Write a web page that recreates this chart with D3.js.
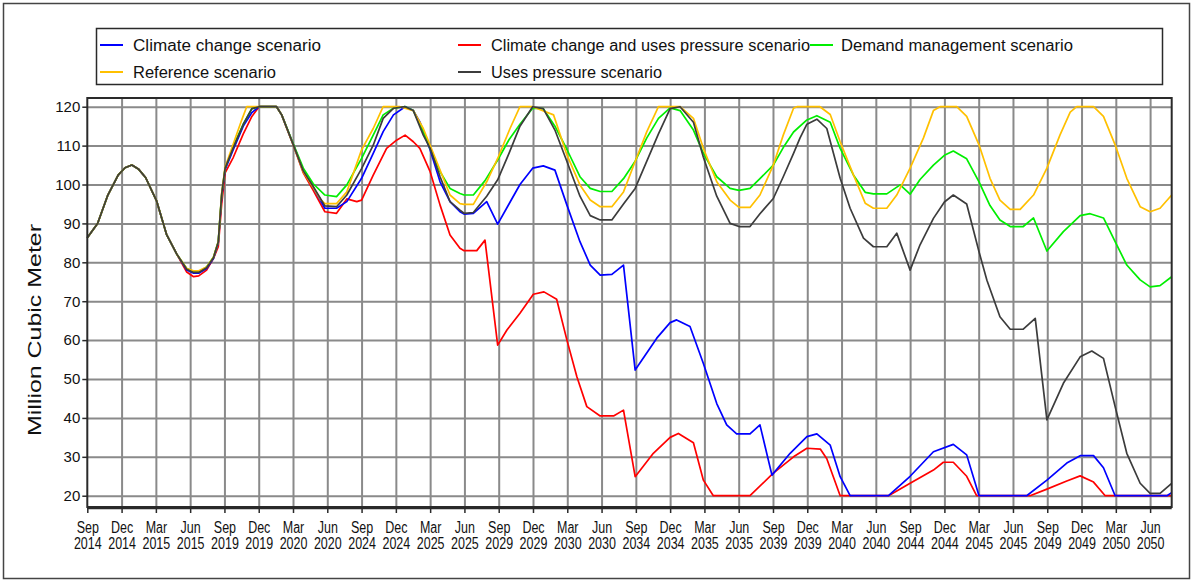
<!DOCTYPE html>
<html>
<head>
<meta charset="utf-8">
<script src="https://cdn.jsdelivr.net/npm/d3@7"></script>
<style>
  body { margin: 0; background: #fff; }
  svg { display: block; font-family: "Liberation Sans", Arial, sans-serif; }
</style>
</head>
<body>
<svg width="1194" height="582"></svg>
<script>
// quarter tick labels, as printed on the original chart
var tickMonths = ["Sep","Dec","Mar","Jun","Sep","Dec","Mar","Jun","Sep","Dec","Mar","Jun","Sep","Dec","Mar","Jun",
                  "Sep","Dec","Mar","Jun","Sep","Dec","Mar","Jun","Sep","Dec","Mar","Jun","Sep","Dec","Mar","Jun"];
var tickYears = ["2014","2014","2015","2015","2019","2019","2020","2020","2024","2024","2025","2025","2029","2029","2030","2030",
                 "2034","2034","2035","2035","2039","2039","2040","2040","2044","2044","2045","2045","2049","2049","2050","2050"];
var yTicks = [20,30,40,50,60,70,80,90,100,110,120];

// [tick position, million m3]
var commonStart = [[0,86.3],[0.3,90],[0.6,97.3],[0.9,102.4],[1.1,104.3],[1.3,105],[1.5,103.9],[1.7,101.8],[2.02,95.8],
                   [2.31,87.2],[2.61,82.1]];

var referenceScenario = commonStart.concat([[2.9,78.4],[3.1,77.8],[3.25,77.8],[3.48,78.8],[3.68,81.3],[3.82,85.3],
  [3.92,97.8],[4.02,104.5],[4.26,110.5],[4.5,116.5],[4.65,120],[5.52,120],[5.67,117.9],[6.01,110.1],[6.3,103.3],[6.59,99.2],
  [6.8,96.2],[6.93,95.1],[7.27,95.1],[7.57,98.1],[8,108.9],[8.34,114.4],[8.63,120],[9.12,120],[9.51,119],[9.8,114.4],
  [10,110.1],[10.29,103.7],[10.58,97.3],[10.87,95.1],[10.99,94.9],[11.26,94.9],[11.65,100.7],[11.97,106.7],[12.33,114.4],
  [12.62,120],[12.99,120],[13.6,117.9],[13.99,107.6],[14.37,99.9],[14.67,96],[14.96,94.3],[15.3,94.3],[15.64,98.1],
  [15.98,105.9],[16.32,113.6],[16.66,120],[17.29,120],[17.68,117],[17.97,109.3],[18.36,100.7],[18.75,96],[19.01,94.1],
  [19.33,94.1],[19.62,97.3],[20.01,105],[20.3,112.7],[20.6,119.6],[20.7,120],[21.37,120],[21.67,118],[21.96,111],
  [22.35,102.4],[22.69,95.2],[22.93,93.9],[23.32,93.9],[23.61,97.3],[24,104.2],[24.39,112],[24.68,119],[24.87,120],
  [25.36,120],[25.65,117.5],[26.01,110.2],[26.33,101.6],[26.62,96],[26.92,93.6],[27.21,93.6],[27.6,97.3],[27.99,104.2],
  [28.37,112.7],[28.67,118.6],[28.86,120],[29.35,120],[29.64,117.5],[29.98,110.2],[30.32,101.6],[30.71,94.3],[31,93],
  [31.29,93.9],[31.63,97.3]]);

var demandScenario = commonStart.concat([[2.9,78.4],[3.1,77.6],[3.25,77.6],[3.48,78.8],[3.68,81.3],[3.82,85.3],
  [3.92,97.5],[4.02,104.2],[4.26,109.8],[4.55,115.5],[4.8,119.5],[5.01,120],[5.52,120],[5.67,117.9],[6.01,110.4],[6.3,104.2],
  [6.59,100.2],[6.93,97.3],[7.27,96.9],[7.57,99.9],[8,106.7],[8.34,112.7],[8.63,117.9],[8.93,119.6],[9.27,120],[9.51,119],
  [9.8,113.6],[10,109.3],[10.29,103.3],[10.58,99],[10.87,97.7],[10.99,97.3],[11.26,97.3],[11.6,101],[11.97,106.3],
  [12.3,111.5],[12.62,115.5],[12.99,119.6],[13.3,119.5],[13.64,115],[13.99,109],[14.37,102],[14.67,99],[14.96,98.2],
  [15.3,98.2],[15.64,101.5],[15.98,106],[16.32,112],[16.66,117],[17,119.7],[17.29,119],[17.68,114],[17.97,108],[18.36,102],
  [18.75,99],[19.01,98.5],[19.33,99],[19.62,101.5],[20.01,105],[20.3,109.5],[20.6,113.5],[20.99,116.6],[21.28,117.7],
  [21.67,116],[21.96,109.3],[22.35,102.4],[22.69,98],[22.93,97.6],[23.32,97.6],[23.71,99.9],[24,97.5],[24.29,101.3],
  [24.68,105],[25,107.5],[25.26,108.6],[25.65,106.6],[26.01,100.7],[26.33,94.6],[26.62,90.9],[26.92,89.2],[27.3,89.2],
  [27.6,91.4],[27.99,82.9],[28.47,87.9],[28.96,92],[29.25,92.5],[29.64,91.4],[29.98,85.3],[30.32,79.3],[30.71,75.5],
  [31,73.7],[31.29,74],[31.63,76.3]]);

var usesPressureScenario = commonStart.concat([[2.9,78.2],[3.1,77.4],[3.25,77.4],[3.48,78.6],[3.68,81.2],[3.82,85.2],
  [3.92,97.5],[4.02,104.2],[4.26,109.5],[4.55,115.5],[4.8,119.5],[5.01,120],[5.52,120],[5.67,117.9],[6.01,110.2],[6.3,103.5],
  [6.59,99.5],[6.93,94.5],[7.27,94.3],[7.57,97.3],[8,104.1],[8.34,110.1],[8.63,117],[8.93,119.6],[9.27,120],[9.51,119],
  [9.8,112.7],[10,109.3],[10.29,102],[10.58,95.6],[10.87,93.4],[10.99,92.6],[11.26,92.8],[11.65,97],[11.97,101.2],
  [12.3,108],[12.62,115],[12.99,120],[13.3,119.5],[13.64,114],[13.99,105.9],[14.37,97],[14.67,92],[14.96,90.9],[15.3,90.9],
  [15.64,95],[15.98,99],[16.32,106],[16.66,113],[17,119.5],[17.29,120],[17.68,116],[17.97,107],[18.36,97],[18.75,90],
  [19.01,89.2],[19.33,89.2],[19.62,92.5],[20.01,96.4],[20.3,102],[20.6,108],[20.79,112],[20.99,115.5],[21.28,116.8],
  [21.57,114.4],[21.96,101.6],[22.25,93.9],[22.64,86.2],[22.93,84],[23.32,84],[23.61,87.5],[24,78],[24.29,84.5],
  [24.68,91.3],[25,95.5],[25.26,97.3],[25.65,95],[26.01,82.7],[26.24,75.4],[26.62,66],[26.92,62.8],[27.3,62.8],
  [27.65,65.6],[27.99,39.5],[28.47,48.9],[28.96,55.7],[29.3,57.2],[29.64,55.3],[29.98,42.9],[30.32,30.9],[30.71,23.2],
  [31,20.6],[31.29,20.6],[31.63,23.2]]);

var climateScenario = commonStart.concat([[2.9,78],[3.1,77.2],[3.25,77.2],[3.48,78.4],[3.68,81],[3.82,85],
  [3.92,97],[4.02,103.8],[4.26,109],[4.55,115],[4.8,118.5],[5.01,120],[5.52,120],[5.67,117.9],[6.01,110.2],[6.3,103.5],
  [6.59,99.2],[6.93,93.9],[7.27,93.9],[7.57,95.6],[8,101.6],[8.34,108],[8.63,113.6],[8.93,117.9],[9.27,120],[9.51,119],
  [9.7,116.1],[10,108.9],[10.29,100.7],[10.58,95.6],[10.87,93],[10.99,92.4],[11.26,92.6],[11.65,95.6],[11.97,89.8],
  [12.3,95],[12.62,100],[12.99,104.2],[13.3,104.8],[13.64,103.7],[13.99,94.7],[14.37,85.3],[14.67,79.3],[14.96,76.7],
  [15.3,76.9],[15.64,79.3],[15.98,52.3],[16.61,60.5],[17,64.5],[17.19,65.2],[17.58,63.5],[17.97,54],[18.36,43.7],
  [18.65,38.2],[18.94,35.9],[19.33,35.9],[19.62,38.2],[19.97,25.3],[20.5,30.9],[20.99,35.2],[21.28,35.9],[21.67,33],
  [21.96,24.9],[22.25,20],[23.37,20],[24,25],[24.68,31.3],[25.26,33.2],[25.65,30.5],[26.01,20],[27.4,20],[27.99,24],
  [28.57,28.4],[28.96,30.3],[29.35,30.3],[29.64,27.2],[29.98,20],[31.49,20],[31.63,20.8]]);

var climatePressureScenario = commonStart.concat([[2.9,77.5],[3.1,76.3],[3.25,76.5],[3.48,78],[3.68,81],[3.82,84],
  [3.92,95],[4.02,103],[4.26,107],[4.55,113],[4.8,117.5],[5.01,120],[5.52,120],[5.67,117.9],[6.01,110.1],[6.3,103],
  [6.59,98.5],[6.93,93],[7.27,92.6],[7.57,96.3],[7.86,95.6],[8,96],[8.34,102.4],[8.73,109.3],[9.02,111.4],[9.27,112.7],
  [9.51,111],[9.7,109.3],[10,103.3],[10.29,94.7],[10.58,87],[10.87,83.6],[10.99,83],[11.36,83],[11.6,85.7],[11.97,58.7],
  [12.24,62.6],[12.62,66.9],[13.01,71.8],[13.32,72.4],[13.69,70.5],[13.99,60],[14.28,50.6],[14.57,42.9],[14.96,40.5],
  [15.35,40.5],[15.64,42],[15.98,24.9],[16.51,30.9],[17,35],[17.24,36],[17.68,33.6],[17.97,24],[18.26,20],[19.33,20],
  [20.01,25.8],[20.6,30],[20.99,32.2],[21.38,32],[21.57,29.5],[21.96,20],[23.37,20],[24,23.2],[24.68,26.6],[24.97,28.6],
  [25.26,28.6],[25.65,25],[25.94,20],[27.5,20],[27.99,21.7],[28.57,23.8],[28.96,25.1],[29.35,23.5],[29.69,20],[31.63,20]]);

var seriesNames = ["Climate change scenario","Climate change and uses pressure scenario","Demand management scenario",
                   "Reference scenario","Uses pressure scenario"];
var seriesColors = ["#0000ff","#ff0000","#00ee00","#ffc000","#3c3c3c"];
var seriesData = [climateScenario, climatePressureScenario, demandScenario, referenceScenario, usesPressureScenario];

// plot frame (window.top is reserved, so prefixed names)
var plotLeft=87.3, plotRight=1171.7, plotTop=98, plotBottom=507;

var svg=d3.select("svg");

var xScale=d3.scaleLinear().domain([0,31.63]).range([plotLeft,plotRight]);
var yScale=d3.scaleLinear().domain([17.1,122.24]).range([plotBottom,plotTop]);

// outer border of the picture
svg.append("rect")
   .attr("x",3.5).attr("y",3.5).attr("width",1186).attr("height",575)
   .attr("fill","none").attr("stroke","#444").attr("stroke-width",1.5);

// grid
var xGrid=d3.axisBottom(xScale).tickValues(d3.range(1,32)).tickSize(-(plotBottom-plotTop)).tickFormat("").tickSizeOuter(0);
var yGrid=d3.axisLeft(yScale).tickValues(yTicks).tickSize(-(plotRight-plotLeft)).tickFormat("").tickSizeOuter(0);
svg.append("g").attr("class","grid").attr("transform","translate(0,"+plotBottom+")").call(xGrid);
svg.append("g").attr("class","grid").attr("transform","translate("+plotLeft+",0)").call(yGrid);
svg.selectAll(".grid .domain").remove();
svg.selectAll(".grid line").attr("stroke","#8a8a8a").attr("stroke-width",2);

// lines, drawn in the same stacking as the original
var line=d3.line().x(d=>xScale(d[0])).y(d=>yScale(d[1]));
var drawOrder=[1,0,2,3,4];
drawOrder.forEach(function(i){
  svg.append("path")
     .datum(seriesData[i])
     .attr("d",line)
     .attr("fill","none")
     .attr("stroke",seriesColors[i])
     .attr("stroke-width",1.7)
     .attr("stroke-linejoin","round");
});

// frame
svg.append("rect")
   .attr("x",plotLeft).attr("y",plotTop).attr("width",plotRight-plotLeft).attr("height",plotBottom-plotTop)
   .attr("fill","none").attr("stroke","#2a2a2a").attr("stroke-width",2);
svg.append("line").attr("x1",plotLeft).attr("x2",plotRight).attr("y1",plotBottom+1.5).attr("y2",plotBottom+1.5)
   .attr("stroke","#2a2a2a").attr("stroke-width",1.5);

// axes
var xAxis=d3.axisBottom(xScale).tickValues(d3.range(0,32)).tickSize(6).tickSizeOuter(0).tickFormat("");
var gx=svg.append("g").attr("transform","translate(0,"+plotBottom+")").call(xAxis);
gx.select(".domain").remove();
gx.selectAll(".tick line").attr("stroke","#2a2a2a").attr("stroke-width",1.5);

gx.selectAll(".tick").append("text")
  .attr("class","month")
  .attr("y",26).attr("fill","#111")
  .style("font-size","16px").style("text-anchor","middle")
  .text(d=>tickMonths[d]);
gx.selectAll(".tick").append("text")
  .attr("class","year")
  .attr("y",42).attr("fill","#111")
  .style("font-size","16px").style("text-anchor","middle")
  .text(d=>tickYears[d]);
// squeeze the labels to the narrow look of the original font
gx.selectAll("text").each(function(){
  var w=this.getComputedTextLength();
  d3.select(this).attr("textLength",w*0.78).attr("lengthAdjust","spacingAndGlyphs");
});

var yAxis=d3.axisLeft(yScale).tickValues(yTicks).tickSize(5).tickSizeOuter(0);
var gy=svg.append("g").attr("transform","translate("+plotLeft+",0)").call(yAxis);
gy.select(".domain").remove();
gy.selectAll(".tick line").attr("stroke","#2a2a2a").attr("stroke-width",1.5);
gy.selectAll(".tick text").attr("x",-7).attr("fill","#111").style("font-size","15px").style("font-family","inherit");

// y title
svg.append("text")
   .attr("transform","rotate(-90)")
   .attr("x",-330)
   .attr("y",41)
   .style("text-anchor","middle")
   .style("font-size","19px")
   .attr("fill","#111")
   .attr("textLength",212)
   .attr("lengthAdjust","spacingAndGlyphs")
   .text("Million Cubic Meter");

// legend
svg.append("rect")
   .attr("x",96.5).attr("y",28.5).attr("width",1066).attr("height",56)
   .attr("fill","#fff").attr("stroke","#2a2a2a").attr("stroke-width",1.5);

var legendPos=[[100,45],[458,45],[810,45],[100,72],[458,72]];
var legendWidths=[188,319,232,143,171];
var legend=svg.selectAll(".legend")
  .data(seriesNames)
  .enter()
  .append("g")
    .attr("class","legend")
    .attr("transform",(d,i)=>"translate("+legendPos[i][0]+","+legendPos[i][1]+")");
legend.append("line")
  .attr("x1",0).attr("x2",23).attr("y1",0).attr("y2",0)
  .attr("stroke",(d,i)=>seriesColors[i]).attr("stroke-width",2);
legend.append("text")
  .attr("x",(d,i)=> i==2 ? 31 : 33)
  .attr("y",5.5)
  .attr("fill","#111")
  .style("font-size","16px")
  .attr("textLength",(d,i)=>legendWidths[i])
  .attr("lengthAdjust","spacingAndGlyphs")
  .text(d=>d);
</script>
</body>
</html>
